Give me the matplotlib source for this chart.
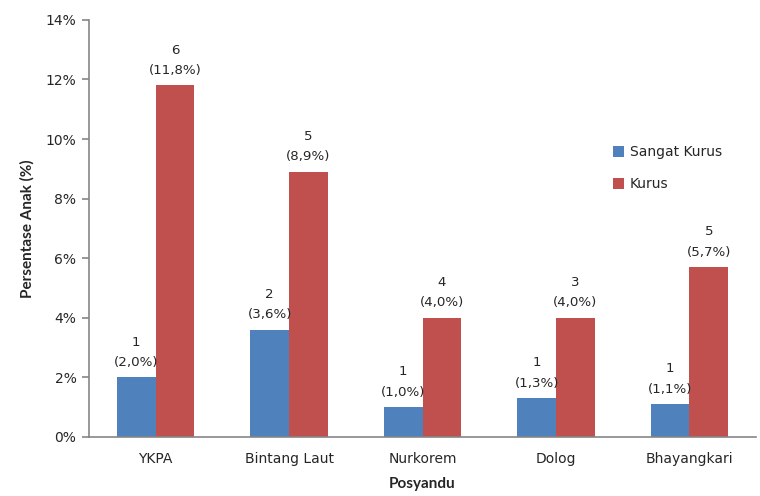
import numpy as np
import matplotlib
matplotlib.use("Agg")
import matplotlib.pyplot as plt
from matplotlib.ticker import FuncFormatter

plt.rcParams['font.family'] = ['DejaVu Sans']

posyandu = ['YKPA', 'Bintang Laut', 'Nurkorem', 'Dolog', 'Bhayangkari']
sangat_kurus_pct = [2.0, 3.6, 1.0, 1.3, 1.1]
sangat_kurus_n = [1, 2, 1, 1, 1]
kurus_pct = [11.8, 8.9, 4.0, 4.0, 5.7]
kurus_n = [6, 5, 4, 3, 5]

blue = '#4F81BD'
red = '#C0504D'
axis_grey = '#868686'
text_col = '#262626'

fig = plt.figure(figsize=(7.6, 4.96), dpi=100)
ax = fig.add_axes([0.117, 0.119, 0.878, 0.841])

x = np.arange(len(posyandu))
w = 0.29
b1 = ax.bar(x - w / 2, sangat_kurus_pct, w, color=blue, label='Sangat Kurus')
b2 = ax.bar(x + w / 2, kurus_pct, w, color=red, label='Kurus')

def fmt(v):
    return ('%.1f%%' % v).replace('.', ',')

for bars, pcts, ns in [(b1, sangat_kurus_pct, sangat_kurus_n), (b2, kurus_pct, kurus_n)]:
    for bar, p, n in zip(bars, pcts, ns):
        cx = bar.get_x() + bar.get_width() / 2
        ax.annotate('%d\n(%s)' % (n, fmt(p)), (cx, p), xytext=(0, 6),
                    textcoords='offset points', ha='center', va='bottom',
                    fontsize=9.6, color=text_col, linespacing=1.75)

ax.set_xlim(-0.5, len(posyandu) - 0.5)
ax.set_ylim(0, 14)
ax.set_yticks(np.arange(0, 15, 2))
ax.yaxis.set_major_formatter(FuncFormatter(lambda v, _: '%d%%' % v))
ax.set_xticks(x)
ax.set_xticklabels(posyandu)

for s in ['top', 'right']:
    ax.spines[s].set_visible(False)
for s in ['left', 'bottom']:
    ax.spines[s].set_color(axis_grey)
    ax.spines[s].set_linewidth(1.2)
ax.tick_params(axis='y', colors=axis_grey, labelcolor=text_col, labelsize=10,
               length=5, width=1.2, pad=4)
ax.tick_params(axis='x', length=0, labelcolor=text_col, labelsize=10, pad=11)

ax.set_xlabel('Posyandu', fontsize=11, fontweight='bold', color=text_col,
              labelpad=8, family='Lato')
ax.set_ylabel('Persentase Anak (%)', fontsize=11, fontweight='bold', color=text_col,
              labelpad=8, family='Lato')

fig.legend(loc='upper left', bbox_to_anchor=(0.79, 0.732), frameon=False,
           fontsize=10, handlelength=0.8, handleheight=0.8, handletextpad=0.4,
           labelspacing=1.3, labelcolor=text_col)

fig.savefig('out.png', dpi=100)
